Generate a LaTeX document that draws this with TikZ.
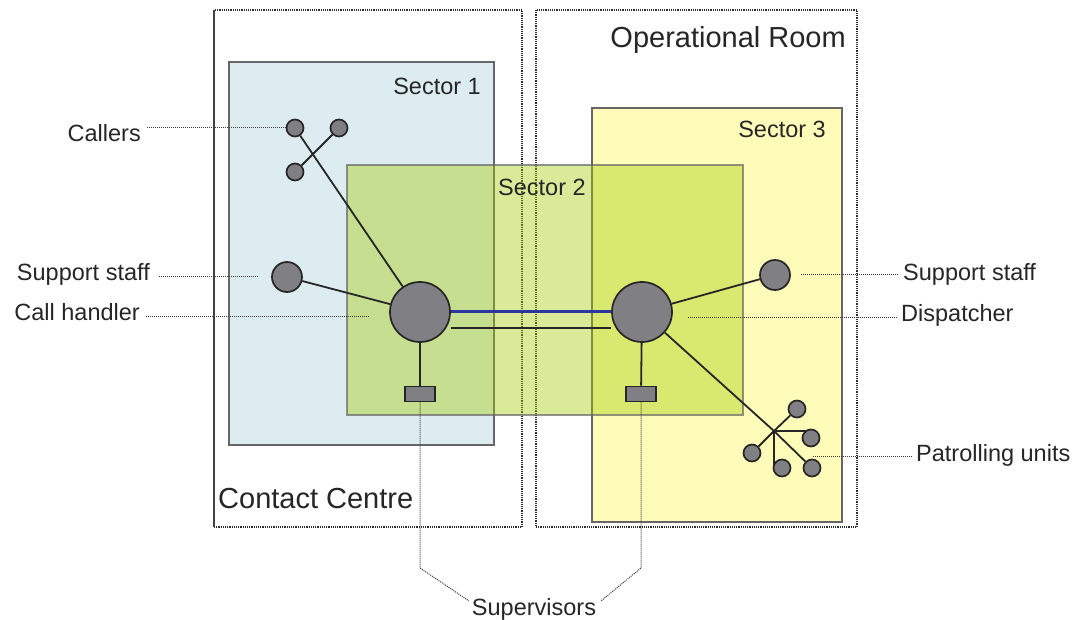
\documentclass[tikz,border=0pt]{standalone}
\usepackage{fontspec}
\setmainfont{Liberation Sans}
\definecolor{nodegray}{RGB}{128,128,132}
\definecolor{secone}{RGB}{221,236,241}
\definecolor{secthree}{RGB}{254,252,184}
\definecolor{sectwo}{RGB}{162,203,0}
\definecolor{linkblue}{RGB}{45,55,160}
\pgfdeclarelayer{areas}
\pgfdeclarelayer{links}
\pgfsetlayers{areas,links,main}
\begin{document}
\begin{tikzpicture}[x=1pt,y=-1pt,
  room/.style={draw=gray!35!black, line width=1.4pt, dash pattern=on 1.2pt off 1pt},
  sector/.style={draw=gray!80!black, line width=1.5pt},
  unit/.style={circle, draw=black!85, line width=1.7pt, fill=nodegray, inner sep=0pt, minimum size=#1},
  supbox/.style={rectangle, draw=black!85, line width=1.7pt, fill=nodegray, inner sep=0pt, minimum width=30pt, minimum height=15pt},
  link/.style={draw=black!85, line width=1.8pt},
  lead/.style={draw=gray!45!black, line width=1pt, dash pattern=on 1pt off 1pt},
  lbl/.style={font=\fontsize{23.5}{28}\selectfont, inner sep=0pt, text=black!85},
  big/.style={font=\fontsize{29}{34}\selectfont, inner sep=0pt, text=black!85}
]
\useasboundingbox (0,0) rectangle (1080,620);

\begin{pgfonlayer}{areas}
\fill[white] (0,0) rectangle (1080,620);
% rooms
\draw[room] (214,10) rectangle (522,527);
\draw[gray!50!black, line width=1.4pt] (214,10) -- (214,527);
\draw[room] (536,10) rectangle (857,527);
% sectors
\draw[sector, fill=secone] (229,62) rectangle (494,445);
\draw[sector, fill=secthree] (592,108) rectangle (842,522);
\draw[sector, fill=sectwo, fill opacity=0.4, draw opacity=0.7] (347,165) rectangle (743,415);
\end{pgfonlayer}

% sector / room labels
\node[big, anchor=base east] (lop) at (846,48) {Operational Room};
\node[big, anchor=base west] (lcc) at (218,508) {Contact Centre};
\node[lbl, anchor=base east] (ls1) at (481,95) {Sector 1};
\node[lbl, anchor=base west] (ls2) at (498,196) {Sector 2};
\node[lbl, anchor=base east] (ls3) at (826,138) {Sector 3};

% units
\node[unit=60pt] (ch) at (420,312) {};
\node[unit=60pt] (dp) at (642,312) {};
\node[unit=30pt] (ss1) at (287,277) {};
\node[unit=30pt] (ss2) at (775,275) {};
\node[unit=17pt] (c1) at (295,128) {};
\node[unit=17pt] (c2) at (339,128) {};
\node[unit=17pt] (c3) at (295,172) {};
\node[supbox] (sv1) at (420,394) {};
\node[supbox] (sv2) at (641,394) {};
\coordinate (hub) at (774,431);
\node[unit=17pt] (p1) at (797,409) {};
\node[unit=17pt] (p2) at (811,438) {};
\node[unit=17pt] (p3) at (752,453) {};
\node[unit=17pt] (p4) at (782,468) {};
\node[unit=17pt] (p5) at (812,468) {};

% connectors behind units
\begin{pgfonlayer}{links}
\draw[link] (c1) -- (ch);
\draw[link] (c3) -- (c2);
\draw[link] (ss1) -- (ch);
\draw[link] (ss2) -- (dp);
\draw[link] (ch) -- (sv1);
\draw[link] (dp) -- (sv2);
\draw[linkblue, line width=3pt] (ch) -- (dp);
\draw[link] (ch.east |- 0,328) -- (dp.west |- 0,328);
\draw[link] (dp) -- (hub) -- (p5);
\draw[link] (hub) -- (p1);
\draw[link] (hub) -- (hub -| p2);
\draw[link] (hub) -- (p3);
\draw[link] (hub) -- (hub |- p4);
\end{pgfonlayer}

% labels
\node[lbl, anchor=base east] (lcall) at (141,142) {Callers};
\node[lbl, anchor=base east] (lss1) at (150,281) {Support staff};
\node[lbl, anchor=base east] (lch) at (140,321) {Call handler};
\node[lbl, anchor=base west] (lss2) at (903,281) {Support staff};
\node[lbl, anchor=base west] (ldp) at (901,322) {Dispatcher};
\node[lbl, anchor=base west] (lpu) at (916,462) {Patrolling units};
\node[lbl, anchor=base] (lsup) at (534,615) {Supervisors};

% leader end points
\coordinate (e1) at (258,277);
\coordinate (e2) at (370,317);
\coordinate (e3) at (801,275);
\coordinate (e4) at (688,318);
\coordinate (e5) at (813,457);
\coordinate (b1) at (420,568);
\coordinate (b2) at (641,568);

\draw[lead] ([xshift=6pt]lcall.east |- c1) -- (c1.west);
\draw[lead] ([xshift=9pt]lss1.east |- e1) -- (e1);
\draw[lead] ([xshift=6pt]lch.east |- e2) -- (e2);
\draw[lead] (e3) -- ([xshift=-4pt]lss2.west |- e3);
\draw[lead] (e4) -- ([xshift=-4pt]ldp.west |- e4);
\draw[lead] (e5) -- ([xshift=-4pt]lpu.west |- e5);
\draw[lead] (sv1.south) -- (b1) -- ([xshift=-3pt,yshift=-3pt]lsup.north west);
\draw[lead] (sv2.south) -- (b2) -- ([xshift=5pt,yshift=-3pt]lsup.north east);
\end{tikzpicture}
\end{document}
